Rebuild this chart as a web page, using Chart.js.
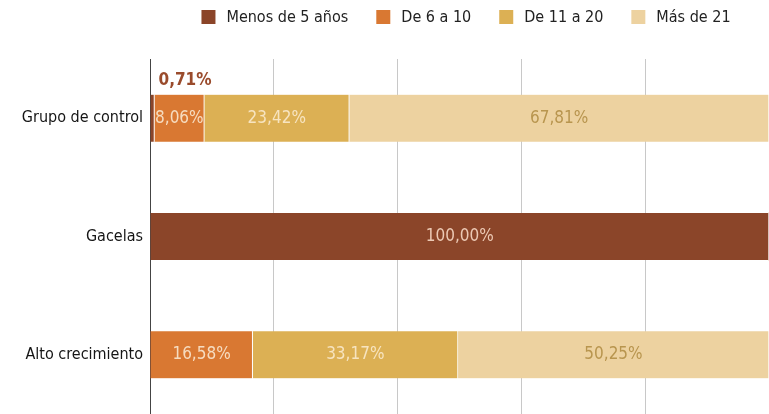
<!DOCTYPE html>
<html>
<head>
<meta charset="utf-8">
<script src="https://cdn.jsdelivr.net/npm/chart.js@4.4.1/dist/chart.umd.min.js"></script>
<style>
  html, body { margin: 0; padding: 0; background: #fff; overflow: hidden; }
  canvas { display: block; }
</style>
</head>
<body>
<canvas id="chart" width="769" height="414"></canvas>
<script>
const categories = ["Grupo de control", "Gacelas", "Alto crecimiento"];
const seriesNames = ["Menos de 5 años", "De 6 a 10", "De 11 a 20", "Más de 21"];
const menos5 = [0.71, 100, 0];
const de6a10 = [8.06, 0, 16.58];
const de11a20 = [23.42, 0, 33.17];
const mas21 = [67.81, 0, 50.25];

const colors = ["#8b4529", "#d97832", "#dcb054", "#edd2a0"];
const labelColors = ["#ecc9b4", "#f6dcc0", "#f7e4c0", "#b8954e"];
const FONT = "'Liberation Sans Narrow', 'DejaVu Sans Condensed', sans-serif";

const fmt = v => v.toFixed(2).replace(".", ",") + "%";

// labels inside (or above, when too small) each bar segment
const barLabels = {
    id: "barLabels",
    afterDatasetsDraw: function (chart) {
        const ctx = chart.ctx;
        ctx.save();
        ctx.textBaseline = "middle";
        chart.data.datasets.forEach(function (ds, i) {
            chart.getDatasetMeta(i).data.forEach(function (bar, j) {
                const v = ds.data[j];
                if (!v) return;
                if (v < 3) {
                    ctx.font = "bold 17px " + FONT;
                    ctx.fillStyle = "#9a4b2c";
                    ctx.textAlign = "left";
                    ctx.fillText(fmt(v), bar.base + 8, bar.y - 38);
                } else {
                    ctx.font = "17px " + FONT;
                    ctx.fillStyle = labelColors[i];
                    ctx.textAlign = "center";
                    ctx.fillText(fmt(v), (bar.x + bar.base) / 2, bar.y);
                }
            });
        });
        ctx.restore();
    }
};

// legend drawn by hand to get the wide spacing between items
const topLegend = {
    id: "topLegend",
    afterDraw: function (chart) {
        const ctx = chart.ctx;
        const box = 14, gapText = 11, gapItem = 28;
        ctx.save();
        ctx.font = "16px " + FONT;
        ctx.textBaseline = "middle";
        ctx.textAlign = "left";
        const widths = chart.data.datasets.map(ds => box + gapText + ctx.measureText(ds.label).width);
        const total = widths.reduce((a, b) => a + b, 0) + gapItem * (widths.length - 1);
        let x = 466 - total / 2;
        const y = 17;
        chart.data.datasets.forEach(function (ds, i) {
            ctx.fillStyle = ds.backgroundColor;
            ctx.fillRect(x, y - box / 2, box, box);
            ctx.fillStyle = "#222";
            ctx.fillText(ds.label, x + box + gapText, y + 1);
            x += widths[i] + gapItem;
        });
        ctx.restore();
    }
};

const seriesData = [menos5, de6a10, de11a20, mas21];

new Chart(document.getElementById("chart"), {
    type: "bar",
    data: {
        labels: categories,
        datasets: seriesNames.map(function (name, i) {
            return {
                label: name,
                data: seriesData[i],
                backgroundColor: colors[i],
                borderColor: "#ffffff",
                borderWidth: { right: 1 },
                borderSkipped: false,
                barThickness: 47
            };
        })
    },
    options: {
        indexAxis: "y",
        responsive: false,
        animation: false,
        layout: { padding: { top: 59, right: 0, left: 0, bottom: 0 } },
        plugins: {
            legend: { display: false },
            tooltip: { enabled: false }
        },
        scales: {
            x: {
                stacked: true,
                min: 0,
                max: 100,
                ticks: { display: false, stepSize: 20 },
                grid: { color: "#c8c8c8", drawTicks: false },
                border: { display: false },
                afterFit: function (scale) { scale.height = 0; }
            },
            y: {
                stacked: true,
                grid: { display: false, drawTicks: false },
                border: { display: true, color: "#444", width: 1 },
                ticks: {
                    color: "#151515",
                    padding: 7,
                    font: { family: FONT, size: 16 }
                },
                afterFit: function (scale) {
                    scale.width = 150;
                    scale.paddingTop = 0;
                    scale.paddingBottom = 0;
                }
            }
        }
    },
    plugins: [barLabels, topLegend]
});
</script>
</body>
</html>
